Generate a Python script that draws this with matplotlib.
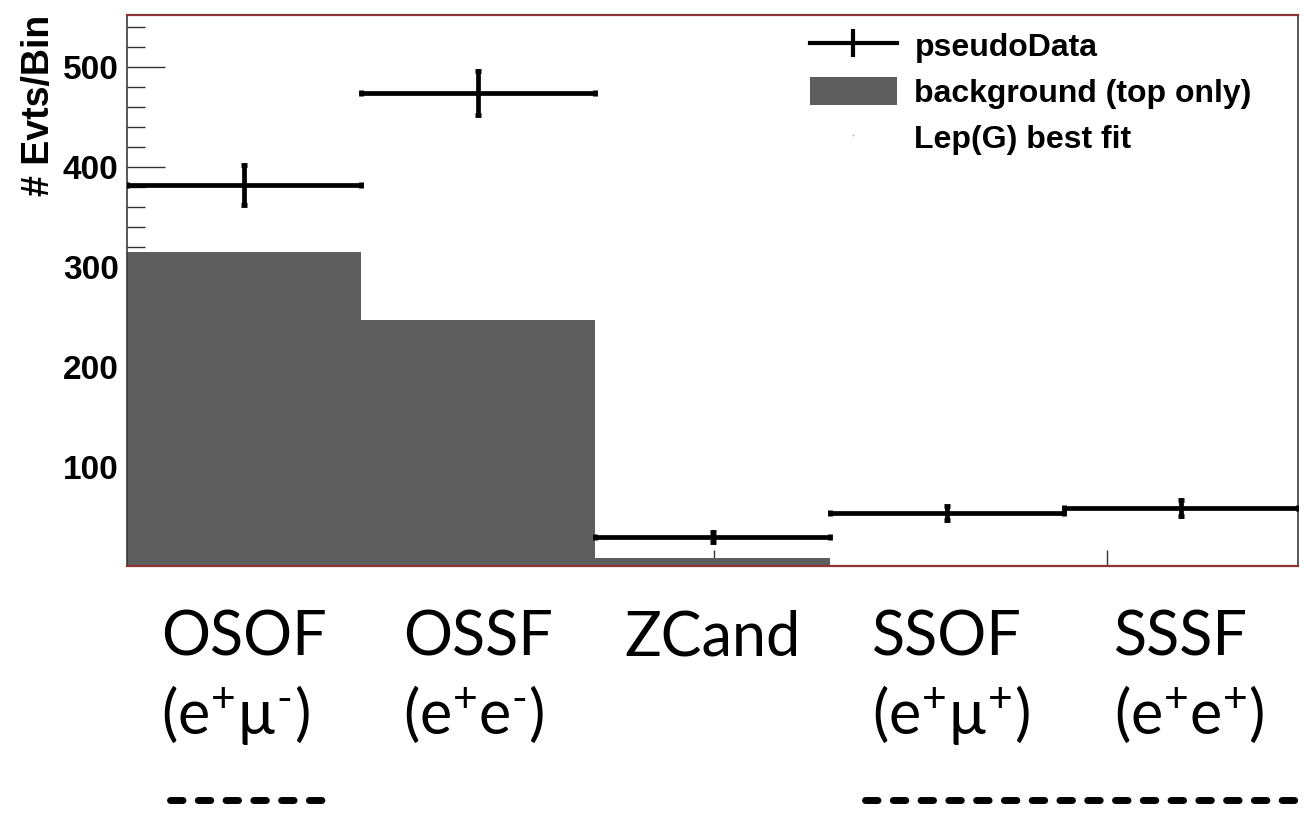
import numpy as np
import matplotlib
matplotlib.use("Agg")
import matplotlib.pyplot as plt
from matplotlib.lines import Line2D
from matplotlib.patches import Patch
from matplotlib.transforms import blended_transform_factory

# данные по каналам
categories = ["OSOF", "OSSF", "ZCand", "SSOF", "SSSF"]
charges = [r"(e$^{+}$µ$^{\text{-}}$)", r"(e$^{+}$e$^{\text{-}}$)", "",
           r"(e$^{+}$µ$^{+}$)", r"(e$^{+}$e$^{+}$)"]
pseudo_data = [382, 474, 30, 54, 59]
background = [315, 247, 9, 0, 0]
legend_labels = ["pseudoData", "background (top only)", "Lep(G) best fit"]

plt.rcParams["mathtext.fontset"] = "custom"
plt.rcParams["mathtext.rm"] = "Lato"
plt.rcParams["mathtext.it"] = "Lato:italic"
plt.rcParams["mathtext.bf"] = "Lato:bold"

W, H = 1305, 815
fig = plt.figure(figsize=(W / 100, H / 100), dpi=100)
ax = fig.add_axes([127 / W, 1 - 566 / H, 1171 / W, 551 / H])

x = np.arange(len(categories)) + 0.5
ax.bar(x, background, width=1.0, color="#5e5e5e", linewidth=0)
ax.errorbar(x, pseudo_data, xerr=0.5, yerr=np.sqrt(pseudo_data), fmt="none",
            ecolor="black", elinewidth=3.4, capsize=2.5, capthick=3.5, zorder=3)

ax.set_xlim(0, len(categories))
ax.set_ylim(1, 552)
ax.set_axisbelow(True)

ax.set_yticks([100, 200, 300, 400, 500])
ax.set_yticks(np.arange(20, 552, 20), minor=True)
ax.set_xticks([0.833, 2.508, 4.183])
ax.set_xticklabels([])
ax.tick_params(axis="y", which="major", direction="in", length=27, width=1.0,
               color="#333333", pad=6, labelsize=24)
ax.tick_params(axis="y", which="minor", direction="in", length=13, width=1.0, color="#333333")
ax.tick_params(axis="x", which="major", direction="in", length=11.5, width=1.0, color="#333333")
for lab in ax.get_yticklabels():
    lab.set_fontweight("bold")
    lab.set_fontfamily("Liberation Sans")

ax.set_ylabel("# Evts/Bin", loc="top", fontsize=27, fontweight="bold", family="Liberation Sans")
ax.yaxis.set_label_coords(-0.06, 1.0)

for side in ["top", "bottom"]:
    ax.spines[side].set_color("#8a3434")
    ax.spines[side].set_linewidth(1.6)
for side in ["left", "right"]:
    ax.spines[side].set_color("#3a3a3a")
    ax.spines[side].set_linewidth(1.2)

handles = [
    Line2D([], [], color="black", linewidth=3.0, marker="|", markersize=20, markeredgewidth=3.0),
    Patch(facecolor="#5e5e5e", edgecolor="none"),
    Line2D([], [], marker=".", markersize=1, color="#bbbbbb", linestyle="none"),
]
ax.legend(handles, legend_labels, loc="upper left", frameon=False,
          prop={"family": "Liberation Sans", "weight": "bold", "size": 23},
          bbox_to_anchor=(0.5726, 0.9946), handlelength=2.7, handleheight=1.0,
          labelspacing=0.43, handletextpad=0.56, borderaxespad=0.0)

# подписи каналов под осью: первая строка по центру бина, вторая от её левого края
trans = blended_transform_factory(ax.transData, fig.transFigure)
first_lines = []
for xc, name in zip(x, categories):
    t = ax.text(xc, 1 - 655 / H, name, transform=trans, ha="center", va="baseline",
                fontsize=44, family="Lato")
    first_lines.append(t)

fig.canvas.draw()
renderer = fig.canvas.get_renderer()
for t, ch in zip(first_lines, charges):
    if not ch:
        continue
    bb = t.get_window_extent(renderer)
    fig.text(bb.x0 / W, 1 - 734 / H, ch, ha="left", va="baseline", fontsize=44, family="Lato")

# штриховые подчёркивания
for x0, x1 in [(170, 334), (865, 1305)]:
    fig.add_artist(Line2D([x0 / W, x1 / W], [1 - 800 / H] * 2, transform=fig.transFigure,
                          color="black", linewidth=5, linestyle=(0, (1.8, 2.2)),
                          dash_capstyle="round"))

fig.savefig("out.png", dpi=100)
